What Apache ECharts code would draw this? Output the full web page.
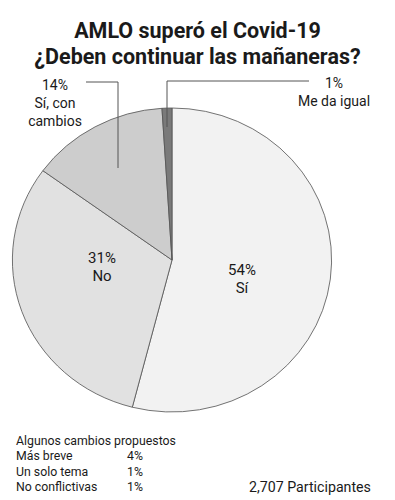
<!DOCTYPE html>
<html>
<head>
<meta charset="utf-8">
<script src="https://cdn.jsdelivr.net/npm/echarts@6/dist/echarts.min.js"></script>
<style>
html,body{margin:0;padding:0;background:#fff;}
#wrap{position:relative;width:395px;height:500px;overflow:hidden;}
#pie,#over{position:absolute;left:0;top:0;width:395px;height:500px;}
#pie{transform:scaleX(1.05);transform-origin:172px 260px;}
</style>
</head>
<body>
<div id="wrap"><div id="pie"></div><div id="over"></div></div>
<script>
// ---- data ----
const titleLines = ['AMLO superó el Covid-19', '¿Deben continuar las mañaneras?'];
const categories = ['Sí', 'No', 'Sí, con\ncambios', 'Me da igual'];
const values = [54, 31, 14, 1];
const colors = ['#f2f2f2', '#e1e1e1', '#cdcdcd', '#7a7a7a'];
const footerTitle = 'Algunos cambios propuestos';
const footerItems = ['Más breve', 'Un solo tema', 'No conflictivas'];
const footerValues = ['4%', '1%', '1%'];
const participants = '2,707 Participantes';

const FONT = 'Roboto, "Liberation Sans", sans-serif';
const CENTER = [172, 260];
const RADIUS = 152;

// label placement (screen coords) and leader lines
const labelPos = [
  {x: 242, y: 279},
  {x: 102, y: 267},
  {x: 55, y: 103, line: [[118, 168], [118, 82], [86, 82]]},
  {x: 334, y: 92, line: [[167, 127], [167, 81], [309, 81]]}
];

const pieData = categories.map((c, i) => ({name: c, value: values[i], itemStyle: {color: colors[i]}}));

// visible pie (stretched horizontally to match the reference's oval)
const pieChart = echarts.init(document.getElementById('pie'), null, {renderer: 'svg'});
pieChart.setOption({
  animation: false,
  series: [{
    type: 'pie',
    center: CENTER,
    radius: RADIUS,
    startAngle: 90,
    clockwise: true,
    label: {show: false},
    labelLine: {show: false},
    itemStyle: {borderColor: '#555', borderWidth: 0.8},
    emphasis: {disabled: true},
    data: pieData
  }]
});

// overlay: titles, labels, footer (unstretched)
const over = echarts.init(document.getElementById('over'), null, {renderer: 'svg'});
const FOOT = {fontFamily: FONT, fontSize: 12.3, fontWeight: 'normal', color: '#1a1a1a'};
const titles = [
  {
    text: titleLines.join('\n'),
    left: 'center', top: 12,
    textStyle: {fontFamily: FONT, fontSize: 21.5, fontWeight: 'bold', color: '#1a1a1a', lineHeight: 26}
  },
  {text: footerTitle, left: 11, top: 430, textStyle: FOOT}
];
footerItems.forEach((t, i) => {
  titles.push({text: t, left: 11, top: 445 + i * 15.7, textStyle: FOOT});
  titles.push({text: footerValues[i], left: 122, top: 445 + i * 15.7, textStyle: FOOT});
});
titles.push({text: participants, left: 244, top: 475,
  textStyle: {fontFamily: FONT, fontSize: 14.2, fontWeight: 'normal', color: '#1a1a1a'}});

over.setOption({
  animation: false,
  title: titles,
  series: [{
    type: 'pie',
    center: CENTER,
    radius: RADIUS,
    startAngle: 90,
    silent: true,
    itemStyle: {color: 'rgba(0,0,0,0)', borderWidth: 0},
    emphasis: {disabled: true},
    label: {
      show: true,
      position: 'inside',
      overflow: 'none',
      formatter: p => p.value + '%\n' + p.name,
      fontFamily: FONT, fontSize: 15, color: '#1a1a1a', lineHeight: 18, align: 'center'
    },
    labelLine: {show: true, lineStyle: {color: '#555', width: 1}},
    labelLayout: p => {
      const lp = labelPos[p.dataIndex];
      const o = {x: lp.x, y: lp.y, align: 'center', verticalAlign: 'middle', width: 120};
      if (lp.line) o.labelLinePoints = lp.line;
      return o;
    },
    data: categories.map((c, i) => ({
      name: c, value: values[i],
      label: labelPos[i].line ? {position: 'outside', fontSize: 14, overflow: 'none'} : {},
      labelLine: {show: !!labelPos[i].line}
    }))
  }]
});
</script>
</body>
</html>
